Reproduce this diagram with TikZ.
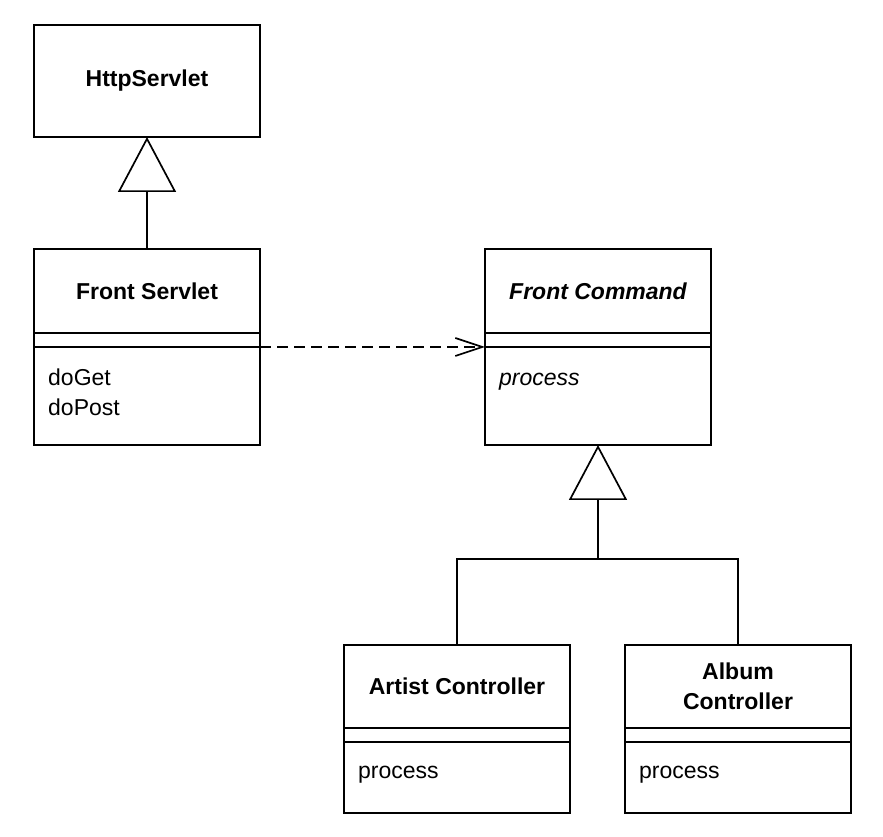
\documentclass[tikz,border=0pt]{standalone}
\usepackage{fontspec}
\setmainfont{Liberation Sans}
\usetikzlibrary{positioning,calc,arrows.meta}
\tikzset{
  classname/.style={draw, line width=1.7pt, outer sep=0pt, minimum width=226pt,
    minimum height=84pt, align=center, font=\fontsize{23}{30}\selectfont\bfseries},
  classgap/.style={draw, line width=1.7pt, outer sep=0pt, minimum width=226pt,
    minimum height=14pt, inner sep=0pt},
  classops/.style={draw, line width=1.7pt, outer sep=0pt, minimum width=226pt,
    minimum height=#1, inner sep=0pt},
  opstext/.style={anchor=north west, inner sep=0pt, align=left,
    font=\fontsize{23}{30}\selectfont},
  edgegen/.style={line width=1.7pt},
  edgeinh/.style={line width=1.7pt, -{Triangle[open, length=55pt, width=58pt]}},
  edgedep/.style={line width=1.7pt, dash pattern=on 11pt off 6pt,
    -{Straight Barb[length=27pt, width=18pt]}}
}

\begin{document}
\begin{tikzpicture}[x=1pt, y=1pt]
\useasboundingbox (0,0) rectangle (883,837);
% servlet side
\node[classname, minimum height=112pt] (hs) at (147,756) {HttpServlet};
\node[classname] (fs) at (147,546) {Front Servlet};
\node[classgap, below=0pt of fs] (fsgap) {};
\node[classops=98pt, below=0pt of fsgap] (fsops) {};
\node[opstext, below right=17pt and 14pt of fsops.north west] (fsopstext) {\strut doGet\\doPost};
% commands
\node[classname] (fc) at (598,546) {\itshape Front Command};
\node[classgap, below=0pt of fc] (fcgap) {};
\node[classops=98pt, below=0pt of fcgap] (fcops) {};
\node[opstext, below right=17pt and 14pt of fcops.north west] (fcopstext) {\strut\itshape process};
\node[classname, minimum height=83pt] (ac) at (457,150.5) {Artist Controller};
\node[classgap, below=0pt of ac] (acgap) {};
\node[classops=71pt, below=0pt of acgap] (acops) {};
\node[opstext, below right=15pt and 14pt of acops.north west] (acopstext) {\strut process};
\node[classname, minimum height=83pt] (al) at (738,150.5) {Album\\Controller};
\node[classgap, below=0pt of al] (algap) {};
\node[classops=71pt, below=0pt of algap] (alops) {};
\node[opstext, below right=15pt and 14pt of alops.north west] (alopstext) {\strut process};
\coordinate (split) at ($(fcops.south)+(0,-114)$);
% edges
\draw[edgeinh] (fs) -- (hs);
\draw[edgedep] (fsgap.south east) -- (fcgap.south west);
\draw[edgeinh] (split) -- (fcops);
\draw[edgegen] (ac) |- (split) -| (al);
\end{tikzpicture}
\end{document}
